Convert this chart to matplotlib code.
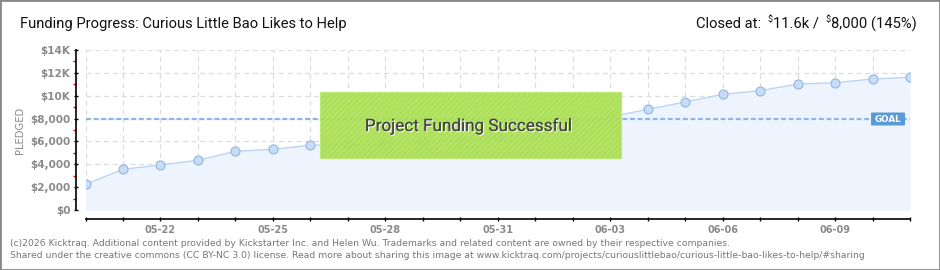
import matplotlib
matplotlib.use("Agg")
import matplotlib.pyplot as plt
from matplotlib import font_manager
from matplotlib.patches import Rectangle, FancyBboxPatch
import matplotlib.patheffects as pe
from matplotlib.ticker import FixedLocator, FixedFormatter

plt.rcParams['text.parse_math'] = False
plt.rcParams['hatch.color'] = (0.73, 0.91, 0.43)
plt.rcParams['hatch.linewidth'] = 0.6

# ---------------- data ----------------
dates = ["05-20", "05-21", "05-22", "05-23", "05-24", "05-25", "05-26", "05-27",
         "05-28", "05-29", "05-30", "05-31", "06-01", "06-02", "06-03", "06-04",
         "06-05", "06-06", "06-07", "06-08", "06-09", "06-10", "06-11"]
pledged = [2250, 3560, 3940, 4350, 5140, 5310, 5660, 5750, 5750, 5950, 6150, 6390,
           6560, 7500, 8140, 8810, 9450, 10120, 10440, 11020, 11140, 11460, 11610]
goal = 8000
y_ticks = [0, 2000, 4000, 6000, 8000, 10000, 12000, 14000]
y_tick_labels = ["$0", "$2,000", "$4,000", "$6,000", "$8,000", "$10K", "$12K", "$14K"]
x_labelled = ["05-22", "05-25", "05-28", "05-31", "06-03", "06-06", "06-09"]
title_text = "Funding Progress: Curious Little Bao Likes to Help"
closed_amount = "11.6k"
goal_amount = "8,000"
percent = "145%"
banner_text = "Project Funding Successful"
footer_lines = [
    "(c)2026 Kicktraq. Additional content provided by Kickstarter Inc. and Helen Wu. Trademarks and related content are owned by their respective companies.",
    "Shared under the creative commons (CC BY-NC 3.0) license. Read more about sharing this image at www.kicktraq.com/projects/curiouslittlebao/curious-little-bao-likes-to-help/#sharing",
]


def pick_font(cands):
    for c in cands:
        try:
            font_manager.findfont(font_manager.FontProperties(family=c), fallback_to_default=False)
            return c
        except Exception:
            continue
    return "DejaVu Sans"


narrow = pick_font(["Liberation Sans Narrow", "Roboto", "Lato"])
small_font = "DejaVu Sans"

W, H = 940, 270
fig = plt.figure(figsize=(W / 100, H / 100), dpi=100)
r = fig.canvas.get_renderer()


def fx(x):
    return x / W


def fy(y):
    return 1 - y / H


def fit(t, target_w):
    bb = t.get_window_extent(r)
    t.set_fontsize(t.get_fontsize() * target_w / bb.width)


# axes region in pixels: x 85.5..910, y 50..210
ax = fig.add_axes([fx(85.5), fy(210), (910 - 85.5) / W, 160 / H])
xs = list(range(len(dates)))
ax.set_xlim(0, len(dates) - 1)
ax.set_ylim(0, 14000)

# grid
grid_kw = dict(color="#dddddd", lw=0.9, ls=(0, (4, 3)), zorder=0)
for x in xs:
    ax.axvline(x, **grid_kw)
for y in y_ticks:
    ax.axhline(y, **grid_kw)

ax.fill_between(xs, pledged, 0, color="#edf4fd", zorder=1, lw=0)
ax.plot(xs, pledged, color="#b9d5f4", lw=1.0, zorder=3,
        marker="o", ms=6.5, mfc="#c6dcf7", mec="#94b6e0", mew=0.8)
ax.axhline(goal, color="#8db6e6", lw=1.6, ls=(0, (2.2, 1.2)), zorder=2)

# spines
for s in ["top", "right"]:
    ax.spines[s].set_visible(False)
for s in ["left", "bottom"]:
    ax.spines[s].set_position(("outward", 6.8))
    ax.spines[s].set_linewidth(1.2)
    ax.spines[s].set_color("black")
    ax.spines[s].set_visible(True)
    ax.spines[s].set_zorder(5)
ax.set_facecolor("none")

ax.yaxis.set_major_locator(FixedLocator(y_ticks))
ax.yaxis.set_major_formatter(FixedFormatter(y_tick_labels))
ax.yaxis.set_minor_locator(FixedLocator([t + 1000 for t in y_ticks[:-1]]))
ax.tick_params(axis="y", which="major", direction="inout", length=3.2, width=1.0,
               color="black", labelsize=7.5, labelcolor="#8a8a8a", pad=2.5)
ax.tick_params(axis="y", which="minor", direction="out", length=2.0, width=1.0, color="#e00000")

ax.xaxis.set_major_locator(FixedLocator(xs))
ax.xaxis.set_major_formatter(FixedFormatter([d if d in x_labelled else "" for d in dates]))
ax.tick_params(axis="x", which="major", direction="inout", length=3.0, width=1.0,
               color="black", labelsize=7, labelcolor="#8a8a8a", pad=2.5)
for lab in ax.get_yticklabels() + ax.get_xticklabels():
    lab.set_fontweight("bold")

fig.text(fx(20), fy(130), "PLEDGED", rotation=90, fontsize=7.2, color="#8a8a8a",
         ha="center", va="center", family="DejaVu Sans")

# goal tag
tag = FancyBboxPatch((fx(871), fy(125.5)), 34 / W, 13 / H, transform=fig.transFigure,
                     boxstyle="round,pad=0,rounding_size=0.002", fc="#5b9ad8", ec="none", zorder=5)
fig.patches.append(tag)
fig.text(fx(888), fy(119), "GOAL", color="white", fontsize=6.3, fontweight="bold",
         ha="center", va="center", family="DejaVu Sans", zorder=6)

# banner
banner = Rectangle((fx(320), fy(158)), 301 / W, 66 / H, transform=fig.transFigure,
                   fc=(0.66, 0.87, 0.31), ec=(0.74, 0.91, 0.45), lw=0.8, alpha=0.93,
                   hatch="//////", zorder=10)
fig.patches.append(banner)
bt = fig.text(fx(468), fy(126), banner_text, fontsize=13, color="#474747", family=narrow,
              ha="center", va="center", zorder=11,
              path_effects=[pe.withSimplePatchShadow(offset=(0.8, -0.8), shadow_rgbFace="white", alpha=0.9),
                            pe.Normal()])
fit(bt, 207)

# title
tt = fig.text(fx(20), fy(24), title_text, fontsize=11.5, color="#111111", family=narrow,
              ha="left", va="center")
fit(tt, 328)
big = tt.get_fontsize()

# right header
pieces = [("Closed at:", 1.0, 0, 6), ("$", 0.62, -4, 1), (closed_amount + " /", 1.0, 0, 6),
          ("$", 0.62, -4, 1), (goal_amount + " (" + percent + ")", 1.0, 0, 0)]
texts = []
x = 0
for s, rel, dy, gap in pieces:
    t = fig.text(0, 0, s, fontsize=big * rel, family=narrow, color="#111111", va="center")
    bb = t.get_window_extent(r)
    texts.append((t, x, dy))
    x += bb.width + gap
start = 917 - x
for t, off, dy in texts:
    t.set_position((fx(start + off), fy(24 + dy)))

# footer
ftexts = []
for yy, line in zip([244, 256], footer_lines):
    ftexts.append(fig.text(fx(10), fy(yy), line, fontsize=8, color="#777777", va="center",
                           family=small_font))
fit(ftexts[1], 858)
ftexts[0].set_fontsize(ftexts[1].get_fontsize())

# border
fig.patches.append(Rectangle((0, 0), 1, 1, transform=fig.transFigure, fill=False,
                             ec="#888888", lw=2.0, zorder=20))

fig.savefig("out.png", dpi=100)
